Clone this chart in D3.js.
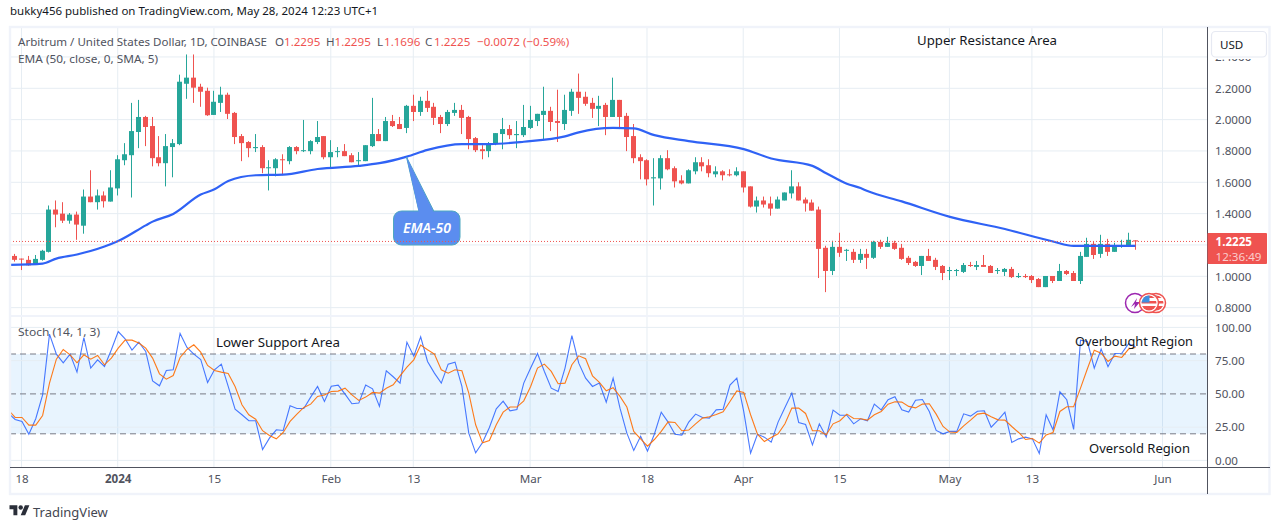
<![CDATA[<!DOCTYPE html>
<html><head><meta charset="utf-8">
<script src="https://cdn.jsdelivr.net/npm/d3@7/dist/d3.min.js"></script>
<style>html,body{margin:0;padding:0;background:#fff;overflow:hidden}svg{display:block}text{font-family:"Noto Sans","Open Sans",sans-serif}</style>
</head><body><svg id="c" width="1281" height="530"></svg>
<script>
const startDate = "2023-12-17";
const opens=[1.130,1.113,1.105,1.072,1.105,1.156,1.426,1.400,1.355,1.394,1.323,1.509,1.473,1.516,1.477,1.561,1.741,1.773,1.921,2.017,1.959,1.760,1.722,1.825,1.844,2.229,2.268,2.210,2.184,2.030,2.107,2.159,2.043,1.895,1.857,1.818,1.825,1.690,1.690,1.747,1.735,1.825,1.799,1.799,1.857,1.895,1.760,1.793,1.799,1.773,1.735,1.735,1.831,1.908,1.863,1.991,1.972,1.947,2.088,2.049,2.120,2.082,2.017,1.972,2.043,2.062,2.017,1.882,1.811,1.799,1.844,1.908,1.940,1.901,1.901,1.947,1.991,2.030,2.056,1.991,1.972,2.056,2.178,2.146,2.107,2.069,2.094,2.017,2.126,2.024,1.895,1.760,1.741,1.625,1.625,1.754,1.690,1.612,1.593,1.670,1.728,1.709,1.651,1.670,1.651,1.645,1.670,1.574,1.445,1.484,1.465,1.432,1.484,1.529,1.574,1.490,1.471,1.426,1.182,1.034,1.188,1.163,1.156,1.105,1.143,1.118,1.220,1.188,1.214,1.182,1.118,1.092,1.066,1.130,1.105,1.066,1.034,1.034,1.028,1.072,1.060,1.072,1.066,1.034,1.028,1.047,0.995,1.002,1.002,0.983,0.931,1.002,0.970,1.034,1.021,0.970,1.124,1.207,1.143,1.207,1.156,1.188,1.188,1.2295];
const highs=[1.143,1.113,1.130,1.136,1.169,1.452,1.484,1.473,1.404,1.413,1.554,1.677,1.554,1.542,1.677,1.773,1.850,2.107,2.126,2.024,2.017,1.895,1.908,1.876,2.287,2.416,2.416,2.229,2.204,2.184,2.210,2.172,2.049,1.908,1.863,1.908,1.837,1.741,1.754,1.779,1.831,1.831,1.998,1.869,1.991,1.895,1.869,1.825,1.844,1.786,1.793,1.837,2.139,1.940,2.017,2.030,2.017,2.094,2.159,2.146,2.184,2.107,2.030,2.062,2.107,2.094,2.024,1.889,1.837,1.857,1.914,2.011,1.966,1.991,2.094,2.088,2.037,2.210,2.082,2.191,2.159,2.197,2.294,2.178,2.139,2.152,2.107,2.268,2.126,2.043,1.972,1.779,1.747,1.754,1.773,1.805,1.702,1.645,1.683,1.760,1.760,1.747,1.702,1.677,1.683,1.696,1.670,1.574,1.509,1.509,1.509,1.509,1.535,1.677,1.600,1.503,1.490,1.445,1.195,1.227,1.278,1.175,1.175,1.175,1.175,1.227,1.233,1.252,1.227,1.207,1.130,1.098,1.130,1.175,1.118,1.072,1.060,1.047,1.085,1.092,1.098,1.136,1.072,1.053,1.053,1.060,1.021,1.015,1.008,0.989,1.002,1.002,1.079,1.040,1.034,1.156,1.246,1.220,1.265,1.239,1.214,1.233,1.278,1.2295];
const lows=[1.094,1.040,1.068,1.072,1.100,1.152,1.313,1.340,1.336,1.233,1.272,1.473,1.426,1.439,1.477,1.516,1.709,1.503,1.818,1.831,1.702,1.702,1.574,1.632,1.837,2.133,2.107,2.082,2.024,2.030,2.049,2.004,1.844,1.735,1.760,1.793,1.658,1.548,1.638,1.645,1.715,1.779,1.793,1.779,1.844,1.747,1.690,1.760,1.767,1.728,1.702,1.735,1.825,1.863,1.863,1.953,1.940,1.914,1.991,2.024,2.049,1.966,1.914,1.959,2.024,1.908,1.811,1.793,1.747,1.760,1.837,1.811,1.876,1.818,1.889,1.940,1.959,1.876,1.927,1.857,1.934,2.024,2.037,2.088,2.011,1.959,1.901,2.017,1.940,1.799,1.722,1.619,1.580,1.452,1.554,1.677,1.567,1.587,1.593,1.651,1.670,1.632,1.632,1.612,1.638,1.638,1.535,1.439,1.407,1.439,1.387,1.432,1.484,1.497,1.484,1.413,1.419,0.989,0.899,1.008,1.124,1.098,1.085,1.085,1.047,1.111,1.175,1.188,1.169,1.105,1.072,1.060,1.008,1.098,1.040,0.976,0.976,1.002,1.021,1.060,1.040,1.060,1.021,1.015,1.002,0.989,0.989,0.989,0.957,0.931,0.931,0.957,0.970,1.008,0.970,0.951,1.124,1.111,1.118,1.130,1.156,1.182,1.188,1.1696];
const closes=[1.105,1.107,1.070,1.111,1.163,1.426,1.394,1.355,1.394,1.330,1.509,1.473,1.516,1.479,1.567,1.747,1.779,1.927,2.017,1.953,1.754,1.722,1.831,1.850,2.242,2.268,2.204,2.178,2.028,2.114,2.159,2.037,1.889,1.850,1.818,1.825,1.690,1.696,1.747,1.741,1.825,1.799,1.805,1.863,1.889,1.760,1.793,1.799,1.767,1.728,1.741,1.837,1.908,1.863,1.991,1.959,1.940,2.088,2.049,2.120,2.075,2.011,1.972,2.049,2.062,2.011,1.876,1.805,1.799,1.850,1.914,1.940,1.901,1.908,1.953,1.998,2.037,2.056,1.985,1.979,2.062,2.178,2.139,2.101,2.069,2.088,2.017,2.126,2.017,1.889,1.754,1.735,1.619,1.632,1.754,1.683,1.606,1.593,1.677,1.728,1.702,1.658,1.670,1.645,1.645,1.670,1.567,1.445,1.484,1.458,1.432,1.490,1.535,1.574,1.484,1.465,1.419,1.175,1.034,1.188,1.150,1.169,1.105,1.143,1.118,1.220,1.188,1.214,1.175,1.111,1.085,1.066,1.130,1.098,1.060,1.021,1.040,1.040,1.072,1.066,1.072,1.060,1.021,1.040,1.047,0.995,1.002,0.995,0.976,0.931,1.002,0.970,1.034,1.015,0.970,1.130,1.207,1.136,1.207,1.156,1.195,1.195,1.233,1.2225];
// EMA read at selected candle offsets from startDate
const emaDays=[-1,4,6,9,13,15,19,20,23,27,29,31,35,39,44,50,53,57,60,65,69,74,80,82,87,90,93,98,106,110,116,118,121,123,124,129,136,144,151,154,163];
const emaValues=[1.073,1.081,1.113,1.139,1.190,1.225,1.325,1.349,1.398,1.522,1.555,1.608,1.645,1.649,1.685,1.705,1.722,1.764,1.807,1.844,1.844,1.859,1.893,1.919,1.947,1.944,1.901,1.863,1.812,1.752,1.705,1.658,1.591,1.563,1.544,1.478,1.379,1.302,1.222,1.194,1.194];
// Stochastic, first value one day before startDate
const stochK=[35.5,30.8,29.3,19.7,31.3,49.3,94.9,79.9,73.4,79.9,66.4,92.4,69.4,75.6,70.6,83.2,96.9,91.4,82.9,88.9,81.9,59.8,56.1,67.6,68.1,95.4,84.9,79.9,75.9,58.6,68.1,72.4,55.6,38.5,34.3,29.8,29.8,8.2,16.7,23.0,22.5,41.1,39.0,39.0,47.6,55.6,44.3,55.8,56.6,49.8,42.6,43.1,56.6,53.8,40.6,67.4,62.9,58.1,88.9,78.4,92.9,74.4,
65.6,58.1,72.4,73.9,55.6,20.5,5.7,13.5,24.8,38.8,44.6,37.3,38.3,58.1,69.4,80.4,66.9,54.3,51.8,69.4,93.9,73.1,61.8,55.6,58.1,43.8,61.8,39.3,20.5,7.5,18.2,7.0,19.7,36.3,28.8,19.7,19.0,28.8,34.8,32.3,31.8,38.0,38.5,56.6,61.8,36.8,5.5,19.7,17.5,13.7,28.8,39.8,50.6,28.5,27.0,11.7,27.5,17.7,37.8,34.0,34.0,27.5,31.3,
29.8,42.3,38.0,45.6,47.8,38.0,36.3,45.3,45.8,36.8,22.5,20.0,21.8,21.8,35.0,33.3,37.0,37.3,25.0,30.3,36.3,13.5,16.2,17.5,16.2,5.2,34.3,23.0,51.6,45.6,23.3,90.4,89.4,69.4,83.7,70.4,80.4,80.6,87.7,85.4];
const stochD=[38.0,32.3,32.3,26.5,26.5,33.8,58.1,76.1,83.4,79.4,73.4,79.4,76.1,78.9,71.9,76.9,84.4,90.4,90.4,88.2,84.4,76.9,65.1,61.1,63.8,77.4,83.4,86.9,81.4,71.4,67.6,66.4,65.4,55.6,41.8,34.3,31.0,22.3,18.7,16.2,21.0,29.3,34.8,39.8,42.3,48.1,49.1,51.8,52.1,54.3,49.3,45.1,47.6,51.1,50.6,54.3,56.8,63.6,70.1,75.6,86.7,83.2,
79.9,68.1,65.6,68.1,67.4,50.6,26.8,13.2,15.0,26.8,36.3,40.1,40.1,44.8,55.6,69.4,72.4,66.9,57.6,58.1,71.9,78.6,76.4,63.6,58.6,52.3,54.6,48.1,40.1,21.8,16.2,10.7,15.7,21.8,29.0,28.5,22.3,22.8,27.5,31.8,32.8,34.5,36.5,44.3,52.3,51.1,34.3,19.7,14.2,17.2,20.0,27.5,39.3,39.3,35.3,22.3,22.3,19.2,27.5,29.8,34.8,31.5,31.3,
30.3,34.3,36.8,42.3,44.1,43.8,40.6,39.5,42.3,42.6,34.8,25.5,21.3,21.0,26.0,30.3,34.8,35.5,32.8,30.5,30.3,25.5,21.0,15.7,16.5,13.0,19.2,21.0,36.8,40.3,40.3,54.3,68.9,82.9,80.6,74.4,78.4,77.4,83.7,84.9];
const priceTicks=[0.8,1.0,1.2,1.4,1.6,1.8,2.0,2.2,2.4];
const priceLabels=[0.8,1.0,1.4,1.6,1.8,2.0,2.2,2.4];
const stochGrid=[0,25,75,100];
const stochLabels=[0,25,50,75,100];
const stochLevels=[20,50,80];
const timeTicks=["2023-12-18","2024-01-01","2024-01-15","2024-02-01","2024-02-13","2024-03-01","2024-03-18","2024-04-01","2024-04-15","2024-05-01","2024-05-13","2024-06-01"];
const timeLabels=["18","2024","15","Feb","13","Mar","18","Apr","15","May","13","Jun"];
const lastClose=1.2225;

const INK="#131722", GREY="#50535e", RED="#ef5350", GREEN="#26a69a", BLUE="#2962ff", ORANGE="#ff6d00", GRID="#e6edf3";
const L=10,R=1207,T=27,B=467;
const svg=d3.select("#c");
const parse=d3.utcParse("%Y-%m-%d");
const x=d3.scaleUtc().domain([parse("2023-12-18"),parse("2024-06-01")]).range([21.5,1162.5]);
const y=d3.scaleLinear().domain([1,2.2]).range([276.3,88.3]);
const ys=d3.scaleLinear().domain([0,100]).range([460.4,327.4]);
const day=i=>d3.utcDay.offset(parse(startDate),i);

const defs=svg.append("defs");
defs.append("clipPath").attr("id","main").append("rect").attr("x",L).attr("y",T).attr("width",R-L).attr("height",316-T);
defs.append("clipPath").attr("id","sub").append("rect").attr("x",L).attr("y",317).attr("width",R-L).attr("height",B-317);
defs.append("clipPath").attr("id","axis").append("rect").attr("x",1208).attr("y",59).attr("width",70).attr("height",430);

// page header
svg.append("text").attr("x",10).attr("y",15).attr("font-size",11.5).attr("fill",INK).text("bukky456 published on TradingView.com, May 28, 2024 12:23 UTC+1");

// grid
const vg=svg.append("g");
vg.selectAll("line").data(timeTicks).join("line").attr("x1",d=>x(parse(d))).attr("x2",d=>x(parse(d))).attr("y1",T).attr("y2",B).attr("stroke",GRID).attr("stroke-width",1);
const hg=svg.append("g").attr("clip-path","url(#main)");
hg.selectAll("line").data(priceTicks).join("line").attr("x1",L).attr("x2",R).attr("y1",d=>y(d)).attr("y2",d=>y(d)).attr("stroke",GRID).attr("stroke-width",1);

// stochastic band and levels
const sub=svg.append("g").attr("clip-path","url(#sub)");
sub.append("rect").attr("x",L).attr("width",R-L).attr("y",ys(80)).attr("height",ys(20)-ys(80)).attr("fill","#2196f3").attr("fill-opacity",0.1);
sub.append("g").selectAll("line").data(stochGrid).join("line").attr("x1",L).attr("x2",R).attr("y1",d=>ys(d)).attr("y2",d=>ys(d)).attr("stroke",GRID).attr("stroke-width",1);
sub.append("g").selectAll("line").data(stochLevels).join("line").attr("x1",L).attr("x2",R).attr("y1",d=>ys(d)).attr("y2",d=>ys(d)).attr("stroke","#787b86").attr("stroke-width",1).attr("stroke-dasharray","6 4");

// candles
const main=svg.append("g").attr("clip-path","url(#main)");
const cg=main.selectAll("g.k").data(opens.map((o,i)=>i)).join("g").attr("fill",i=>closes[i]>=opens[i]?GREEN:RED);
const cx=i=>Math.floor(x(day(i)));
cg.append("rect").attr("x",cx).attr("width",1).attr("y",i=>y(highs[i])).attr("height",i=>y(lows[i])-y(highs[i]));
cg.append("rect").attr("x",i=>cx(i)-2).attr("width",5).attr("y",i=>y(Math.max(opens[i],closes[i]))).attr("height",i=>Math.max(1,Math.abs(y(opens[i])-y(closes[i]))));

// EMA
main.append("path").datum(emaDays.map((d,i)=>[d,emaValues[i]])).attr("fill","none").attr("stroke","#2f62f5").attr("stroke-width",2.2).attr("stroke-linejoin","round")
 .attr("d",d3.line().x(d=>x(day(d[0]))+.5).y(d=>y(d[1])).curve(d3.curveMonotoneX));

// stoch lines
const sl=(arr)=>d3.line().x((d,i)=>x(day(i-1))+.5).y(d=>ys(d))(arr);
sub.append("path").attr("d",sl(stochK)).attr("fill","none").attr("stroke",BLUE).attr("stroke-opacity",.85).attr("stroke-width",1.1);
sub.append("path").attr("d",sl(stochD)).attr("fill","none").attr("stroke",ORANGE).attr("stroke-opacity",.9).attr("stroke-width",1.1);

// callout
const callout=svg.append("g");
callout.append("path").attr("d","M406.5 157 L419 211.5 L434 211.5 Z").attr("fill","#5b8def").attr("stroke","#4fa8c0").attr("stroke-width",1);
callout.append("rect").attr("x",393.5).attr("y",211).attr("width",66.5).attr("height",34).attr("rx",8).attr("fill","#5b8def").attr("stroke","#4fa8c0").attr("stroke-width",1);
callout.append("path").attr("d","M406.5 157 L419 213 L434 213 Z").attr("fill","#5b8def");
callout.append("text").attr("x",427).attr("y",232.5).attr("text-anchor","middle").attr("font-size",14).attr("font-style","italic").attr("font-weight",600).attr("fill","#fff").text("EMA-50");

// last price line
svg.append("line").attr("x1",L).attr("x2",R).attr("y1",y(lastClose)).attr("y2",y(lastClose)).attr("stroke",RED).attr("stroke-width",1).attr("stroke-dasharray","1 2");

// frame
svg.append("rect").attr("x",10).attr("y",27).attr("width",1259.5).attr("height",467).attr("fill","none").attr("stroke","#f0f3fa").attr("stroke-width",2.4);
svg.append("line").attr("x1",L).attr("x2",R).attr("y1",316).attr("y2",316).attr("stroke","#f0f3fa").attr("stroke-width",2);
svg.append("line").attr("x1",L).attr("x2",1270).attr("y1",467.5).attr("y2",467.5).attr("stroke","#50535e").attr("stroke-width",1);
svg.append("line").attr("x1",1207.5).attr("x2",1207.5).attr("y1",27).attr("y2",494).attr("stroke","#50535e").attr("stroke-width",1);

// axes
const fmt=d3.format(".4f");
const ay=svg.append("g").attr("clip-path","url(#axis)").append("g").attr("transform","translate(1207,0)").call(d3.axisRight(y).tickValues(priceLabels).tickSize(0).tickPadding(8).tickFormat(fmt));
const as=svg.append("g").attr("transform","translate(1207,0)").call(d3.axisRight(ys).tickValues(stochLabels).tickSize(0).tickPadding(8).tickFormat(d3.format(".2f")));
const tmap=new Map(timeTicks.map((t,i)=>[+parse(t),timeLabels[i]]));
const ax=svg.append("g").attr("transform","translate(0,473.5)").call(d3.axisBottom(x).tickValues(timeTicks.map(parse)).tickSize(0).tickPadding(0).tickFormat(d=>tmap.get(+d)));
[ay,as,ax].forEach(g=>{g.select(".domain").remove();g.selectAll("text").attr("font-size",11.6).attr("font-family",'"Noto Sans"').attr("fill",GREY);});
ax.selectAll("text").attr("dy","0.85em").filter(d=>tmap.get(+d)==="2024").attr("font-weight",700);

// currency button
svg.append("rect").attr("x",1211.5).attr("y",31.5).attr("width",55).attr("height",25.5).attr("rx",4).attr("fill","#fff").attr("stroke","#e6e9f2").attr("stroke-width",1.2);
svg.append("text").attr("x",1220).attr("y",49).attr("font-size",11.6).attr("fill",INK).text("USD");

// price tag
svg.append("rect").attr("x",1207.5).attr("y",233).attr("width",59.5).attr("height",31).attr("rx",1).attr("fill",RED);
svg.append("text").attr("x",1215.5).attr("y",246).attr("font-size",11.6).attr("font-weight",700).attr("fill","#fff").text("1.2225");
svg.append("text").attr("x",1215.5).attr("y",260.5).attr("font-size",11.6).attr("fill","#fff").attr("fill-opacity",.72).text("12:36:49");

// legends
const leg=svg.append("g").attr("font-size",11.6).attr("fill",GREY);
leg.append("text").attr("x",18).attr("y",46).attr("textLength",249).attr("lengthAdjust","spacingAndGlyphs").text("Arbitrum / United States Dollar, 1D, COINBASE");
[["O",275,"1.2295",284],["H",326,"1.2295",334.5],["L",377,"1.1696",384],["C",425,"1.2225",434],[null,0,"−0.0072",477],[null,0,"(−0.59%)",523]].forEach(([a,ax0,b,bx])=>{
  if(a) leg.append("text").attr("x",ax0).attr("y",46).text(a);
  leg.append("text").attr("x",bx).attr("y",46).attr("fill",RED).text(b);
});
leg.append("text").attr("x",18).attr("y",63).attr("textLength",140).attr("lengthAdjust","spacingAndGlyphs").text("EMA (50, close, 0, SMA, 5)");
leg.append("text").attr("x",18).attr("y",336).attr("textLength",82).attr("lengthAdjust","spacingAndGlyphs").text("Stoch (14, 1, 3)");

// annotations
const notes=[["Upper Resistance Area",917,45,140],["Lower Support Area",216,347,124],["Overbought Region",1075,346,118],["Oversold Region",1089,453,101]];
svg.append("g").selectAll("text").data(notes).join("text").attr("x",d=>d[1]).attr("y",d=>d[2]).attr("font-size",13.2).attr("fill",INK).attr("textLength",d=>d[3]).attr("lengthAdjust","spacingAndGlyphs").text(d=>d[0]);

// event icons
const ev=svg.append("g");
ev.append("circle").attr("cx",1135).attr("cy",303).attr("r",9.5).attr("fill","#fff").attr("stroke","#9c27b0").attr("stroke-width",1.5);
ev.append("path").attr("d","M1131 307 L1137 298 L1136 302 L1140 302 L1134 309 L1135 304 Z").attr("fill","#9c27b0");
[1156,1149].forEach((c,k)=>{
  defs.append("clipPath").attr("id","fl"+k).append("circle").attr("cx",c).attr("cy",303).attr("r",7.5);
  ev.append("circle").attr("cx",c).attr("cy",303).attr("r",9.5).attr("fill","#fff").attr("stroke",RED).attr("stroke-width",1.5);
  const f=ev.append("g").attr("clip-path",`url(#fl${k})`);
  f.append("rect").attr("x",c-8).attr("y",295).attr("width",16).attr("height",16).attr("fill","#fff");
  f.append("rect").attr("x",c-8).attr("y",295).attr("width",16).attr("height",3).attr("fill",RED);
  f.append("rect").attr("x",c-8).attr("y",301).attr("width",16).attr("height",2.5).attr("fill",RED);
  f.append("rect").attr("x",c-8).attr("y",306).attr("width",16).attr("height",5).attr("fill",RED);
  f.append("rect").attr("x",c-8).attr("y",295).attr("width",8.5).attr("height",7.5).attr("fill","#3d8ee0");
});

// TradingView logo
const logo=svg.append("g").attr("transform","translate(9.5,503) scale(0.56)");
logo.append("path").attr("d","M14 22H7V11H0V4h14v18zM28 22h-8l7.5-18h8L28 22z").attr("fill","#2a2e39");
logo.append("circle").attr("cx",20).attr("cy",8).attr("r",4).attr("fill","#2a2e39");
svg.append("text").attr("x",33).attr("y",517).attr("font-size",13).attr("fill","#434651").text("TradingView");
</script></body></html>]]>
